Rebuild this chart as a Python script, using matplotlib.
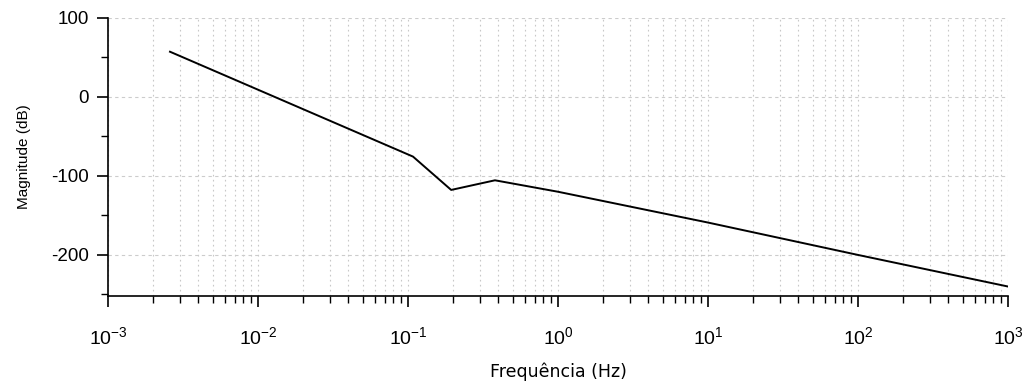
import matplotlib
matplotlib.use("Agg")
import matplotlib.pyplot as plt
from matplotlib.ticker import LogLocator, MultipleLocator, FixedLocator, NullFormatter

plt.rcParams['font.family'] = ['Liberation Sans', 'DejaVu Sans']
plt.rcParams['mathtext.fontset'] = 'custom'
plt.rcParams['mathtext.rm'] = 'Liberation Sans'
plt.rcParams['mathtext.it'] = 'Liberation Sans'
plt.rcParams['axes.unicode_minus'] = False

freq = [0.00259, 0.108, 0.194, 0.38, 1.0, 10.0, 100.0, 1000.0]
mag_db = [57.3, -75.5, -117.7, -105.5, -120.0, -159.0, -200.0, -240.0]

xlim = (1e-3, 1e3)
ylim = (-252, 100)
xticks = [1e-3, 1e-2, 1e-1, 1e0, 1e1, 1e2, 1e3]
xticklabels = ['$10^{-3}$', '$10^{-2}$', '$10^{-1}$', '$10^{0}$', '$10^{1}$', '$10^{2}$', '$10^{3}$']
yticks = [-200, -100, 0, 100]

fig = plt.figure(figsize=(10.28, 3.86), dpi=100)
ax = fig.add_axes([108/1028, 1-296/386, 900/1028, 278/386])

ax.plot(freq, mag_db, color='black', lw=1.4, zorder=3)

ax.set_xscale('log')
ax.set_xlim(*xlim)
ax.set_ylim(*ylim)

ax.xaxis.set_major_locator(FixedLocator(xticks))
ax.set_xticklabels(xticklabels)
ax.xaxis.set_minor_locator(LogLocator(base=10, subs=range(2, 10), numticks=100))
ax.xaxis.set_minor_formatter(NullFormatter())
ax.yaxis.set_major_locator(FixedLocator(yticks))
ax.yaxis.set_minor_locator(MultipleLocator(50))

ax.grid(True, which='major', axis='y', ls=(0, (3, 3)), color='#cccccc', lw=0.8)
ax.grid(True, which='both', axis='x', ls=(0, (1.5, 3)), color='#c8c8c8', lw=0.8)

for s in ['top', 'right']:
    ax.spines[s].set_visible(False)
for s in ['left', 'bottom']:
    ax.spines[s].set_linewidth(1.2)

ax.tick_params(axis='x', which='major', direction='out', length=8, width=1.2, pad=14, labelsize=14)
ax.tick_params(axis='x', which='minor', direction='out', length=5, width=1.0)
ax.tick_params(axis='y', which='major', direction='out', length=8, width=1.2, pad=6, labelsize=13.5)
ax.tick_params(axis='y', which='minor', direction='out', length=5, width=1.0)

ax.set_xlabel('Frequência (Hz)', fontsize=12.5, family='DejaVu Sans', labelpad=10)
ax.set_ylabel('Magnitude (dB)', fontsize=11, labelpad=14)

fig.savefig('out.png', dpi=100)
